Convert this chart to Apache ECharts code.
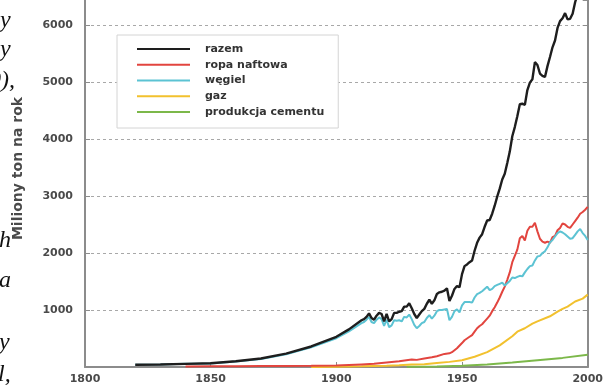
<!DOCTYPE html>
<html>
<head>
<meta charset="utf-8">
<script src="https://cdn.jsdelivr.net/npm/echarts@6/dist/echarts.min.js"></script>
<style>
  html, body { margin: 0; padding: 0; background: #fff; }
  #chart { width: 606px; height: 388px; }
</style>
</head>
<body>
<div id="chart"></div>
<script>
// Global carbon emissions by source, million tonnes per year

const xTicks = [1800, 1850, 1900, 1950, 2000];
const yTicks = [1000, 2000, 3000, 4000, 5000, 6000];
const yTop = 6440;

const totalYears = [1820, 1830, 1840, 1850, 1860, 1870, 1880, 1890, 1900, 1905, 1910, 1911, 1912, 1913, 1914, 1915, 1916, 1917, 1918, 1919,
  1920, 1921, 1922, 1923, 1924, 1925, 1926, 1927, 1928, 1929, 1930, 1931, 1932, 1933, 1934, 1935, 1936, 1937, 1938, 1939,
  1940, 1941, 1942, 1943, 1944, 1945, 1946, 1947, 1948, 1949, 1950, 1951, 1952, 1953, 1954, 1955, 1956, 1957, 1958, 1959,
  1960, 1961, 1962, 1963, 1964, 1965, 1966, 1967, 1968, 1969, 1970, 1971, 1972, 1973, 1974, 1975, 1976, 1977, 1978, 1979,
  1980, 1981, 1982, 1983, 1984, 1985, 1986, 1987, 1988, 1989, 1990, 1991, 1992, 1993, 1994, 1995, 1996, 1997, 1998, 1999, 2000];
const totalValues = [40, 45, 55, 65, 100, 150, 235, 360, 530, 660, 820, 840, 880, 940, 860, 830, 900, 950, 930, 800,
  930, 800, 840, 950, 950, 970, 980, 1060, 1060, 1120, 1030, 930, 860, 920, 980, 1020, 1110, 1180, 1110, 1170,
  1280, 1310, 1320, 1340, 1380, 1160, 1250, 1370, 1420, 1400, 1630, 1770, 1800, 1840, 1870, 2040, 2180, 2270, 2330, 2460,
  2570, 2580, 2690, 2830, 2990, 3130, 3290, 3390, 3580, 3780, 4050, 4210, 4400, 4610, 4620, 4600, 4860, 4990, 5050, 5350,
  5300, 5150, 5110, 5090, 5280, 5440, 5610, 5730, 5950, 6070, 6120, 6210, 6100, 6110, 6200, 6400, 6550, 6640, 6620, 6600, 6760];

const oilYears = [1840, 1850, 1860, 1870, 1880, 1890, 1900, 1905, 1910, 1915, 1920, 1925, 1930, 1932, 1935, 1938, 1940, 1943, 1945, 1946,
  1948, 1950, 1951, 1952, 1953, 1954, 1955, 1956, 1957, 1958, 1959, 1960, 1961, 1962, 1963, 1964, 1965, 1966, 1967, 1968,
  1969, 1970, 1971, 1972, 1973, 1974, 1975, 1976, 1977, 1978, 1979, 1980, 1981, 1982, 1983, 1984, 1985, 1986, 1987, 1988,
  1989, 1990, 1991, 1992, 1993, 1994, 1995, 1996, 1997, 1998, 1999, 2000];
const oilValues = [10, 12, 14, 16, 18, 20, 25, 35, 45, 55, 80, 100, 130, 125, 150, 170, 190, 230, 240, 260,
  330, 420, 470, 500, 530, 560, 620, 680, 720, 750, 800, 850, 900, 980, 1050, 1130, 1220, 1320, 1410, 1530,
  1660, 1840, 1950, 2060, 2260, 2300, 2220, 2390, 2460, 2460, 2530, 2380, 2250, 2200, 2180, 2200, 2180, 2280, 2300, 2400,
  2440, 2520, 2500, 2460, 2440, 2500, 2560, 2620, 2690, 2720, 2760, 2810];

const coalYears = [1820, 1830, 1840, 1850, 1860, 1870, 1880, 1890, 1900, 1905, 1910, 1911, 1912, 1913, 1914, 1915, 1916, 1917, 1918, 1919,
  1920, 1921, 1922, 1923, 1924, 1925, 1926, 1927, 1928, 1929, 1930, 1931, 1932, 1933, 1934, 1935, 1936, 1937, 1938, 1939,
  1940, 1941, 1942, 1943, 1944, 1945, 1946, 1947, 1948, 1949, 1950, 1951, 1952, 1953, 1954, 1955, 1956, 1957, 1958, 1959,
  1960, 1961, 1962, 1963, 1964, 1965, 1966, 1967, 1968, 1969, 1970, 1971, 1972, 1973, 1974, 1975, 1976, 1977, 1978, 1979,
  1980, 1981, 1982, 1983, 1984, 1985, 1986, 1987, 1988, 1989, 1990, 1991, 1992, 1993, 1994, 1995, 1996, 1997, 1998, 1999, 2000];
const coalValues = [40, 45, 55, 62, 95, 140, 225, 345, 505, 625, 770, 790, 830, 880, 790, 770, 830, 870, 840, 720,
  830, 700, 730, 820, 810, 820, 800, 880, 870, 920, 840, 740, 680, 720, 770, 790, 860, 910, 850, 900,
  980, 1000, 1000, 1010, 1020, 820, 880, 980, 1010, 960, 1080, 1140, 1140, 1140, 1130, 1220, 1280, 1300, 1330, 1370,
  1410, 1350, 1370, 1420, 1440, 1460, 1480, 1430, 1470, 1510, 1570, 1560, 1580, 1600, 1590, 1660, 1720, 1770, 1780, 1870,
  1940, 1950, 2000, 2030, 2100, 2190, 2230, 2290, 2350, 2380, 2360, 2330, 2290, 2250, 2260, 2320, 2380, 2420, 2350, 2300, 2230];

const gasYears = [1890, 1900, 1910, 1920, 1925, 1930, 1935, 1940, 1945, 1950, 1955, 1960, 1965, 1970, 1972, 1975, 1978, 1980, 1985, 1988,
  1990, 1992, 1995, 1998, 2000];
const gasValues = [2, 5, 12, 20, 30, 45, 50, 70, 90, 120, 180, 260, 380, 540, 620, 680, 760, 800, 890, 970,
  1020, 1060, 1150, 1200, 1270];

const cementYears = [1928, 1940, 1950, 1960, 1970, 1980, 1990, 2000];
const cementValues = [5, 10, 20, 45, 80, 120, 160, 215];

const seriesNames = ['razem', 'ropa naftowa', 'węgiel', 'gaz', 'produkcja cementu'];
const seriesColors = ['#1e1e1e', '#e2453f', '#5cc3d3', '#f2c12e', '#7cb84a'];

// Margin text lines on the left (cut-off italic paragraph)
const sideText = [')y', ')y', '0),', 'h', 'a', 'y', 'l,'];
const sideTextTop = [9, 38, 69, 229, 269, 331, 363];
const sideTextLeft = [-8, -8, -11, -1, -1, -1, -2];

function pairs(xs, ys) { return xs.map((x, i) => [x, ys[i]]); }

const seriesData = {
  'razem': pairs(totalYears, totalValues),
  'ropa naftowa': pairs(oilYears, oilValues),
  'węgiel': pairs(coalYears, coalValues),
  'gaz': pairs(gasYears, gasValues),
  'produkcja cementu': pairs(cementYears, cementValues)
};

// draw order: cement first, total last on top
const drawOrder = ['produkcja cementu', 'gaz', 'ropa naftowa', 'węgiel', 'razem'];

const axisGray = '#8c8c8c';
const labelFont = { fontFamily: 'DejaVu Sans', fontWeight: 'bold', fontSize: 11, color: '#4a4a4a' };
const tickStyle = { show: true, inside: true, length: 5, lineStyle: { color: axisGray, width: 1 } };

const chart = echarts.init(document.getElementById('chart'), null, { renderer: 'canvas' });
chart.setOption({
  animation: false,
  backgroundColor: '#fff',
  grid: { left: 85, right: 14, top: 0, bottom: 21 },
  legend: {
    data: seriesNames,
    orient: 'vertical',
    left: 117, top: 35,
    padding: [8, 14, 10, 20],
    itemWidth: 53, itemHeight: 2, itemGap: 3.75,
    icon: 'rect',
    backgroundColor: '#fff',
    borderColor: '#d4d4d4', borderWidth: 1,
    textStyle: { fontFamily: 'DejaVu Sans', fontWeight: 'bold', fontSize: 11, color: '#333', lineHeight: 12, padding: [0, 0, 0, 10] }
  },
  xAxis: {
    type: 'value', min: xTicks[0], max: xTicks[xTicks.length - 1], interval: 50,
    axisLine: { show: true, onZero: false, lineStyle: { color: axisGray, width: 2 } },
    axisTick: tickStyle,
    axisLabel: Object.assign({ margin: 7, formatter: v => xTicks.includes(v) ? String(v) : '' }, labelFont),
    splitLine: { show: false }
  },
  yAxis: [{
    type: 'value', min: 0, max: yTop, interval: 1000,
    name: 'Miliony ton na rok', nameLocation: 'middle', nameRotate: 90, nameGap: 60,
    nameTextStyle: { fontFamily: 'DejaVu Sans', fontWeight: 'bold', fontSize: 14, color: '#4a4a4a', padding: [0, 0, 0, 30] },
    axisLine: { show: true, onZero: false, lineStyle: { color: axisGray, width: 2 } },
    axisTick: tickStyle,
    axisLabel: Object.assign({ margin: 12, showMaxLabel: false, formatter: v => yTicks.includes(v) ? String(v) : '' }, labelFont),
    splitLine: { show: true, showMinLine: false, showMaxLine: false, lineStyle: { color: '#a8a8a8', width: 1, type: [3, 3] } }
  }, {
    type: 'value', min: 0, max: yTop, interval: 1000, position: 'right',
    axisLine: { show: true, onZero: false, lineStyle: { color: axisGray, width: 2 } },
    axisTick: tickStyle,
    axisLabel: { show: false },
    splitLine: { show: false }
  }],
  series: drawOrder.map(name => ({
    name: name,
    type: 'line',
    data: seriesData[name],
    showSymbol: false,
    color: seriesColors[seriesNames.indexOf(name)],
    lineStyle: { width: name === 'razem' ? 2.4 : 2, color: seriesColors[seriesNames.indexOf(name)] },
    clip: true
  })),
  graphic: sideText.map((t, i) => ({
    type: 'text',
    left: sideTextLeft[i], top: sideTextTop[i],
    style: { text: t, font: 'italic 24px "Liberation Serif"', fill: '#111' }
  }))
});
</script>
</body>
</html>
